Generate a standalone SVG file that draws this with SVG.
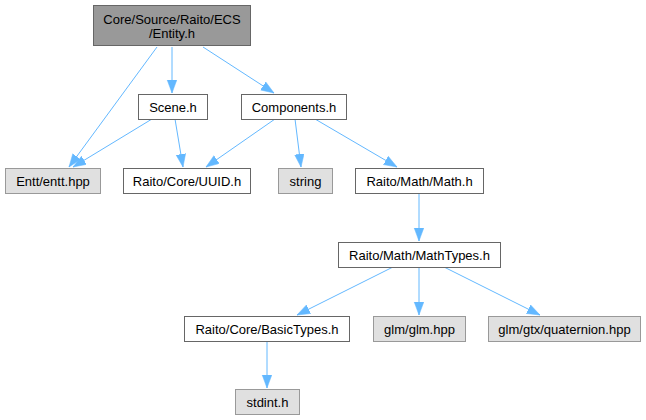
<svg xmlns="http://www.w3.org/2000/svg" width="646" height="420" viewBox="0 0 646 420">
<style>
text{font-family:"Liberation Sans",Arial,Helvetica,sans-serif;font-size:13px;fill:#000;text-anchor:middle}
.root{fill:#999999;stroke:#666666;stroke-width:1}
.loc{fill:#ffffff;stroke:#666666;stroke-width:1}
.ext{fill:#e0e0e0;stroke:#999999;stroke-width:1}
.e{fill:none;stroke:#63b8ff;stroke-width:1;marker-end:url(#ah)}
</style>
<defs>
<marker id="ah" markerUnits="userSpaceOnUse" markerWidth="15" markerHeight="11" refX="13" refY="4.8" orient="auto">
<path d="M0,0 L13,4.8 L0,9.6 z" fill="#63b8ff" stroke="#63b8ff" stroke-width="0.5"/>
</marker>
</defs>
<rect width="646" height="420" fill="#ffffff"/>
<g id="edges">
<path class="e" d="M157,47 L69,167"/>
<path class="e" d="M172,47 L172,93"/>
<path class="e" d="M203,47 L274,93"/>
<path class="e" d="M152,119 L73,167"/>
<path class="e" d="M175,119 L183,167"/>
<path class="e" d="M275,119 L206,167"/>
<path class="e" d="M295,119 L301,167"/>
<path class="e" d="M315,119 L397,167"/>
<path class="e" d="M419,193 L419,241"/>
<path class="e" d="M393,267 L297,315"/>
<path class="e" d="M419,267 L419,315"/>
<path class="e" d="M444,267 L540,315"/>
<path class="e" d="M267,341 L267,388"/>
</g>
<g id="entity"><rect class="root" x="93.5" y="5.5" width="157" height="40"/><text x="172" y="23.5">Core/Source/Raito/ECS</text><text x="172" y="37.5">/Entity.h</text></g>
<g id="scene"><rect class="loc" x="138.5" y="94.5" width="69" height="25"/><text x="173" y="111.5">Scene.h</text></g>
<g id="components"><rect class="loc" x="241.5" y="94.5" width="105" height="25"/><text x="294" y="111.5">Components.h</text></g>
<g id="entt"><rect class="ext" x="5.5" y="168.5" width="95" height="25"/><text x="53" y="185.5">Entt/entt.hpp</text></g>
<g id="uuid"><rect class="loc" x="123.5" y="168.5" width="127" height="25"/><text x="187" y="185.5">Raito/Core/UUID.h</text></g>
<g id="string"><rect class="ext" x="278.5" y="168.5" width="54" height="25"/><text x="305.5" y="185.5">string</text></g>
<g id="math"><rect class="loc" x="355.5" y="168.5" width="128" height="25"/><text x="419.5" y="185.5">Raito/Math/Math.h</text></g>
<g id="mathtypes"><rect class="loc" x="338.5" y="242.5" width="162" height="25"/><text x="419.5" y="259.5">Raito/Math/MathTypes.h</text></g>
<g id="basictypes"><rect class="loc" x="184.5" y="316.5" width="165" height="25"/><text x="267" y="333.5">Raito/Core/BasicTypes.h</text></g>
<g id="glm"><rect class="ext" x="373.5" y="316.5" width="92" height="25"/><text x="419.5" y="333.5">glm/glm.hpp</text></g>
<g id="quaternion"><rect class="ext" x="488.5" y="316.5" width="152" height="25"/><text x="564.5" y="333.5">glm/gtx/quaternion.hpp</text></g>
<g id="stdint"><rect class="ext" x="235.5" y="389.5" width="64" height="25"/><text x="267.5" y="406.5">stdint.h</text></g>
</svg>
